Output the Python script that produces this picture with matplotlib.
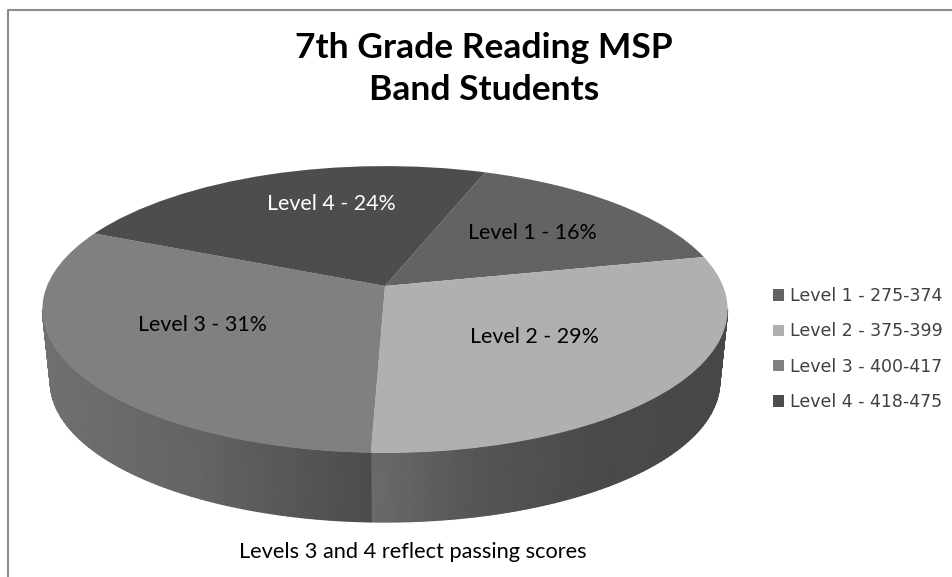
import numpy as np
import matplotlib
matplotlib.use("Agg")
import matplotlib.pyplot as plt
from matplotlib.transforms import Transform

# -------------------------
# DATA
# -------------------------
levels = ["Level 1", "Level 2", "Level 3", "Level 4"]
shares = [16, 29, 31, 24]
score_ranges = ["275-374", "375-399", "400-417", "418-475"]
colors = ["#636363", "#b0b0b0", "#808080", "#4d4d4d"]
label_colors = ["black", "black", "black", "white"]
label_pos = [(532, 233), (534, 337), (203, 325), (331, 204)]
title_lines = ["7th Grade Reading MSP", "Band Students"]

# pie geometry, in picture pixels
cx0, cy0 = 385, 286
size_x, size_y = 338, 139.6
persp = 0.164
start_cw = 20  # degrees clockwise from the back of the pie
wall_drop = 73
wall_scale = 0.977


def project(x, y):
    # unit circle -> tilted disc (y up means away from viewer)
    w = 1 + persp * y
    return cx0 + size_x * x / w, cy0 - size_y * y / w


class TiltTransform(Transform):
    input_dims = 2
    output_dims = 2
    is_affine = False
    has_inverse = False

    def transform_non_affine(self, values):
        values = np.asarray(values, dtype=float)
        px, py = project(values[:, 0], values[:, 1])
        return np.column_stack([px, py])


plt.rcParams["font.family"] = ["Lato", "DejaVu Sans"]
fig = plt.figure(figsize=(9.53, 5.77), dpi=100)
ax = fig.add_axes([0, 0, 1, 1])

# -------------------------
# SIDE WALL
# -------------------------
edges_cw = start_cw + np.cumsum([0] + shares) * 3.6
right_tangent = np.degrees(np.arccos(-persp))
left_tangent = 360 - right_tangent
wall_spans = [
    (right_tangent, edges_cw[2], [369, 470, 600, 728], [0.42, 0.34, 0.29, 0.28]),
    (edges_cw[2], left_tangent, [42, 200, 330, 369], [0.44, 0.39, 0.32, 0.30]),
]
for a0, a1, gx, gv in wall_spans:
    th = np.radians(np.linspace(a0, a1, 90))
    tx, ty = project(np.sin(th), np.cos(th))
    bx = cx0 + wall_scale * (tx - cx0)
    by = cy0 + wall_drop + wall_scale * (ty - cy0)
    xs = np.vstack([tx, bx])
    ys = np.vstack([ty, by])
    shade = np.interp(tx, gx, gv)
    ax.pcolormesh(xs, ys, np.vstack([shade, shade]), cmap="gray", vmin=0, vmax=1,
                  shading="gouraud", rasterized=True)

# -------------------------
# PIE TOP
# -------------------------
tilt = TiltTransform() + ax.transData
wedges, _ = ax.pie(shares, colors=colors, startangle=90 - start_cw, counterclock=False,
                   wedgeprops={"transform": tilt, "linewidth": 0})
ax.set_aspect("auto")
ax.set_xlim(0, 953)
ax.set_ylim(577, 0)
ax.axis("off")

for name, share, pos, col in zip(levels, shares, label_pos, label_colors):
    ax.text(pos[0], pos[1], f"{name} - {share}%", color=col, fontsize=15.4,
            ha="center", va="center")

# title + note
for line, base in zip(title_lines, [58, 100]):
    ax.text(484, base, line, fontsize=25.5, fontweight="bold", ha="center", va="baseline",
            color="black")
ax.text(413, 552, "Levels 3 and 4 reflect passing scores", fontsize=15.7,
        ha="center", va="center", color="black")

# chart frame, cut off at right and bottom
ax.plot([8.5, 8.5, 953], [577, 9.5, 9.5], color="#8c8c8c", lw=1.5, clip_on=False)

# legend
legend_labels = [f"{name} - {rng}" for name, rng in zip(levels, score_ranges)]
ax.legend(wedges, legend_labels, loc="center left", bbox_to_anchor=(773 / 953, 1 - 349 / 577),
          frameon=False, borderpad=0, borderaxespad=0, handlelength=0.63, handleheight=0.63,
          handletextpad=0.35, labelspacing=1.0, labelcolor="#404040",
          prop={"family": "DejaVu Sans", "size": 12.5})

fig.savefig("out.png", dpi=100)
plt.close(fig)
